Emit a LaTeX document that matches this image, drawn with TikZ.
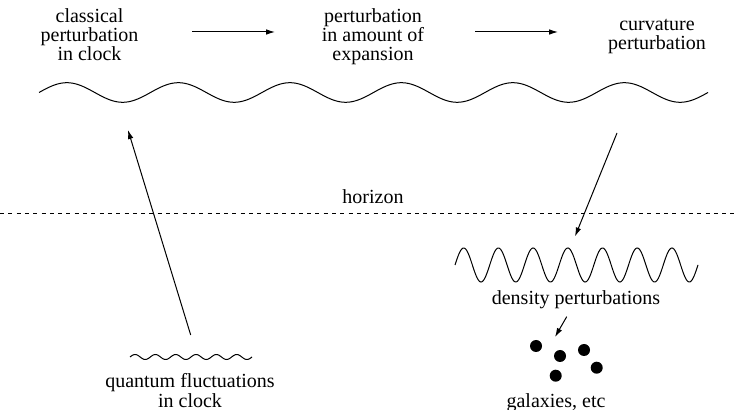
\documentclass[tikz,border=0pt]{standalone}
\usepackage{fontspec}
\setmainfont{Liberation Serif}
\usetikzlibrary{arrows.meta}
\begin{document}
\begin{tikzpicture}[x=0.5pt, y=-0.5pt,
        lbl/.style={align=center, anchor=base, inner sep=0pt, font=\fontsize{10}{9.5}\selectfont},
        galaxy/.style={circle, fill, inner sep=0pt, minimum size=6pt},
        arr/.style={-{Latex[length=4.5pt, width=2.8pt]}, line width=0.5pt}]
    \useasboundingbox (0,0) rectangle (737,410);

    % top row (base = last line)
    \node[lbl] (classical) at (89.5,61) {classical\\perturbation\\in clock};
    \node[lbl] (expansion) at (373,60.5) {perturbation\\in amount of\\expansion};
    \node[lbl] (curvature) at (657,50) {curvature\\perturbation};
    \coordinate (a1) at (192,32); \coordinate (b1) at (275,32);
    \coordinate (a2) at (475,32); \coordinate (b2) at (558,32);
    \draw[arr] (a1) -- (b1);
    \draw[arr] (a2) -- (b2);

    % large scale wave
    \draw[line width=0.5pt] plot[domain=39:708, samples=300, smooth]
        (\x, {92.5 - 9.8*sin(3.2287*(\x-39))});

    % horizon
    \node[lbl] (horizon) at (373,204) {horizon};
    \draw[dash pattern=on 2pt off 2.15pt, line width=0.5pt] (0,213.5) -- (737,213.5);

    % quantum side
    \draw[line width=0.5pt] plot[domain=130:252, samples=150, smooth]
        (\x, {357 - 2.5*sin(17.7078*(\x-130))});
    \node[lbl] (quantum) at (190,407) {quantum fluctuations\\in clock};
    \coordinate (qtop) at (190.7,335); \coordinate (ctop) at (128,130);
    \draw[arr] (qtop) -- (ctop);

    % density side
    \coordinate (cbot) at (617,133); \coordinate (dtop) at (575,236.5);
    \draw[arr] (cbot) -- (dtop);
    \draw[line width=0.5pt] plot[domain=455:698, samples=300, smooth]
        (\x, {265 - 17*sin(10.3717*(\x-455))});
    \node[lbl] (density) at (576,305) {density perturbations};
    \coordinate (d1) at (566.7,316.7); \coordinate (d2) at (555,337);
    \draw[arr] (d1) -- (d2);
    \node[galaxy] (g1) at (536,346) {};
    \node[galaxy] (g2) at (560,356) {};
    \node[galaxy] (g3) at (584,350) {};
    \node[galaxy] (g4) at (596.7,367.7) {};
    \node[galaxy] (g5) at (555.7,375.7) {};
    \node[lbl] (galaxies) at (556,407) {galaxies, etc};
\end{tikzpicture}
\end{document}
